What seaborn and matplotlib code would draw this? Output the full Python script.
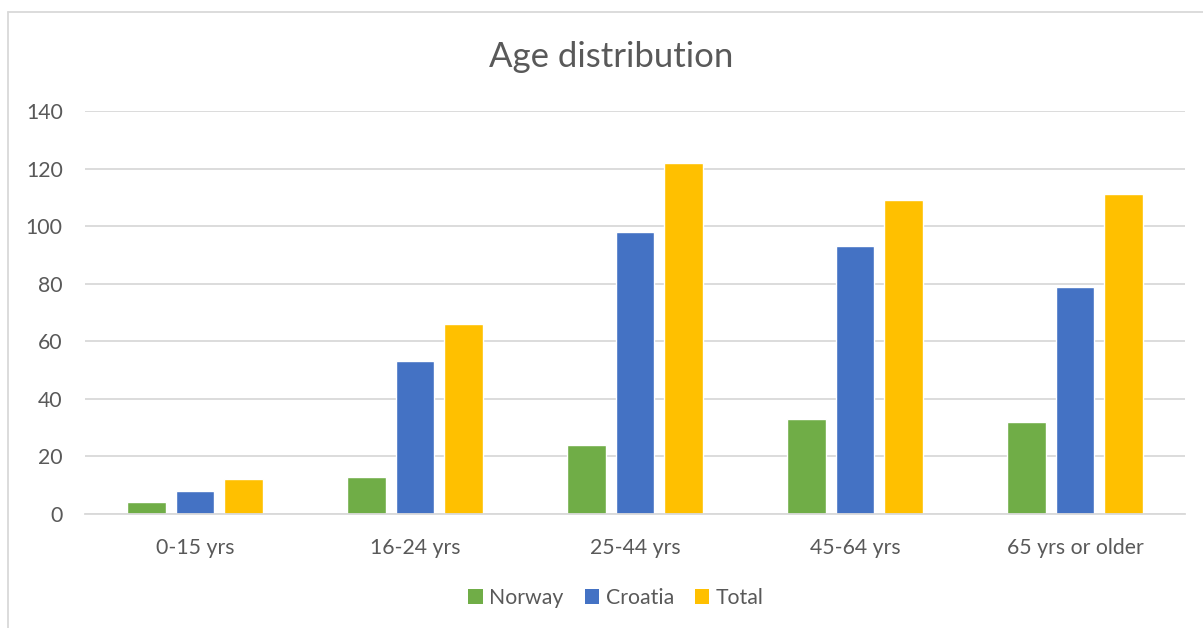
import matplotlib
matplotlib.use("Agg")
import matplotlib.pyplot as plt
import seaborn as sns
import pandas as pd
from matplotlib.patches import Patch
from matplotlib.lines import Line2D

categories = ["0-15 yrs", "16-24 yrs", "25-44 yrs", "45-64 yrs", "65 yrs or older"]
series_names = ["Norway", "Croatia", "Total"]
norway = [4, 13, 24, 33, 32]
croatia = [8, 53, 98, 93, 79]
total = [12, 66, 122, 109, 111]
yticks = [0, 20, 40, 60, 80, 100, 120, 140]
colors = ["#70AD47", "#4472C4", "#FFC000"]

rows = []
for name, vals in zip(series_names, [norway, croatia, total]):
    for c, v in zip(categories, vals):
        rows.append({"Age": c, "Country": name, "Value": v})
df = pd.DataFrame(rows)

sns.set_theme(style="white")
plt.rcParams["font.family"] = ["Lato", "DejaVu Sans"]
text_color = "#595959"

W, H = 1203, 628
fig = plt.figure(figsize=(W / 100, H / 100), dpi=100)
ax = fig.add_axes([85 / W, (H - 514) / H, (1185 - 85) / W, (514 - 111) / H])

sns.barplot(data=df, x="Age", y="Value", hue="Country", order=categories,
            hue_order=series_names, palette=colors, width=0.66, gap=0.2,
            legend=False, ax=ax, saturation=1, errorbar=None)

ax.set_ylim(0, 140)
ax.set_yticks(yticks)
ax.set_xlim(-0.5, len(categories) - 0.5)
ax.yaxis.grid(True, color="#D9D9D9", linewidth=1.3)
ax.set_axisbelow(True)
for s in ["top", "right", "left"]:
    ax.spines[s].set_visible(False)
ax.spines["bottom"].set_color("#D9D9D9")
ax.spines["bottom"].set_linewidth(1.3)
ax.set_xlabel("")
ax.set_ylabel("")
ax.tick_params(axis="y", length=0, pad=16, labelsize=15.3, labelcolor=text_color)
ax.tick_params(axis="x", length=0, pad=17, labelsize=15.3, labelcolor=text_color)

fig.text(611 / W, 1 - 57 / H, "Age distribution", ha="center", va="center",
         fontsize=25, color=text_color)

handles = [Patch(facecolor=c, edgecolor="none") for c in colors]
fig.legend(handles, series_names, loc="center", bbox_to_anchor=(616 / W, 1 - 598 / H),
           ncol=3, frameon=False, fontsize=15.3, labelcolor=text_color,
           handlelength=0.68, handleheight=0.68, handletextpad=0.3, columnspacing=1.0)

# chart border (left and top edges visible)
fig.add_artist(Line2D([8 / W, 8 / W], [0, 1 - 12 / H], transform=fig.transFigure,
                      color="#D9D9D9", linewidth=1.3))
fig.add_artist(Line2D([8 / W, 1], [1 - 12 / H, 1 - 12 / H], transform=fig.transFigure,
                      color="#D9D9D9", linewidth=1.3))

fig.savefig("out.png", dpi=100, facecolor="white")
